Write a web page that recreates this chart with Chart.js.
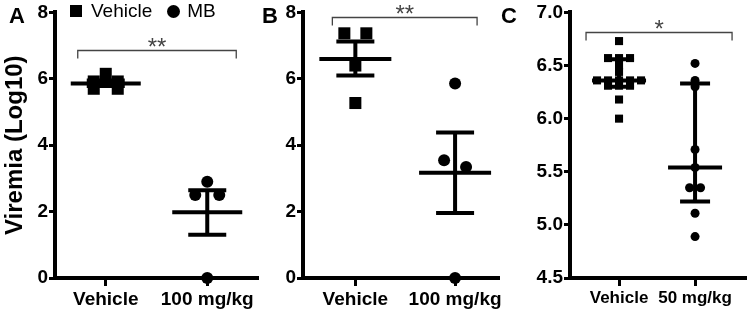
<!DOCTYPE html>
<html>
<head>
<meta charset="utf-8">
<script src="https://cdn.jsdelivr.net/npm/chart.js@4.4.1/dist/chart.umd.min.js"></script>
<style>
  body { margin: 0; background: #fff; }
  #wrap { position: relative; width: 750px; height: 314px; font-family: "Liberation Sans", Arial, sans-serif; }
  .panel { position: absolute; top: 0; height: 314px; }
  .letter { position: absolute; top: 5px; font-weight: bold; font-size: 22px; line-height: 22px; }
  #legend { position: absolute; left: 70px; top: 0px; font-size: 19px; line-height: 22px; display: flex; align-items: center; }
  .sq { display: inline-block; width: 12px; height: 12px; background: #000; margin-right: 9px; }
  .dot { display: inline-block; width: 13px; height: 13px; border-radius: 50%; background: #000; margin: 0 7px 0 15px; }
</style>
</head>
<body>
<div id="wrap">
  <div class="panel" style="left:0;width:262px"><canvas id="chartA"></canvas></div>
  <div class="panel" style="left:258px;width:246px"><canvas id="chartB"></canvas></div>
  <div class="panel" style="left:502px;width:248px"><canvas id="chartC"></canvas></div>
  <div class="letter" style="left:9px">A</div>
  <div class="letter" style="left:262px">B</div>
  <div class="letter" style="left:501px">C</div>
  <div id="legend"><span class="sq"></span>Vehicle<span class="dot"></span>MB</div>
</div>
<script>
// ---- data ----
const categoriesA = ['Vehicle', '100 mg/kg'];
const vehicleA = [6.15, 5.92, 5.92, 5.70, 5.70];
const mbA = [2.9, 2.5, 2.5, 0];
const centerA = [5.86, 1.98];
const lowA = [5.78, 1.30];
const highA = [5.95, 2.64];

const categoriesB = ['Vehicle', '100 mg/kg'];
const vehicleB = [7.37, 7.37, 6.4, 5.27];
const mbB = [5.86, 3.55, 3.34, 0];
const centerB = [6.60, 3.17];
const lowB = [6.10, 1.96];
const highB = [7.12, 4.38];

const categoriesC = ['Vehicle', '50 mg/kg'];
const vehicleC = [6.73, 6.57, 6.57, 6.57, 6.50, 6.44, 6.36, 6.36, 6.36, 6.36, 6.36, 6.31, 6.31, 6.31, 6.18, 6.00];
const mbC = [6.52, 6.36, 6.30, 5.71, 5.54, 5.35, 5.35, 5.11, 4.89];
const centerC = [6.36, 5.54];
const lowC = [6.30, 5.22];
const highC = [6.56, 6.33];

const sigLabels = ['**', '**', '*'];
const sigLevels = [6.86, 7.86, 6.82];

const FONT = '"Liberation Sans", Arial, sans-serif';

// spread points that sit on (nearly) the same value into a row, like a dot plot
const swarm = {
  id: 'swarm',
  afterDatasetsUpdate(chart, args, opts) {
    chart.data.datasets.forEach((ds, di) => {
      const pts = chart.getDatasetMeta(di).data;
      const order = pts.map((p, i) => i).sort((a, b) => pts[a].y - pts[b].y);
      let row = [];
      const flush = () => {
        row.forEach((idx, k) => { pts[idx].x += (k - (row.length - 1) / 2) * opts.gap; });
        row = [];
      };
      order.forEach(idx => {
        if (row.length && pts[idx].y - pts[row[0]].y > opts.tol) flush();
        row.push(idx);
      });
      flush();
    });
  }
};

// mean/median line, error bars and significance bracket
const bars = {
  id: 'bars',
  afterDatasetsDraw(chart, args, o) {
    const { ctx, scales: { x, y } } = chart;
    ctx.save();
    ctx.strokeStyle = '#000';
    ctx.lineWidth = 4;
    o.center.forEach((c, i) => {
      const px = x.getPixelForValue(i + 1);
      const yc = y.getPixelForValue(c);
      const yl = y.getPixelForValue(o.low[i]);
      const yh = y.getPixelForValue(o.high[i]);
      ctx.beginPath();
      ctx.moveTo(px, yl); ctx.lineTo(px, yh);
      ctx.moveTo(px - o.meanHalf, yc); ctx.lineTo(px + o.meanHalf, yc);
      ctx.moveTo(px - o.capHalf, yl); ctx.lineTo(px + o.capHalf, yl);
      ctx.moveTo(px - o.capHalf, yh); ctx.lineTo(px + o.capHalf, yh);
      ctx.stroke();
    });
    const b = o.bracket;
    const x1 = x.getPixelForValue(1) - b.left;
    const x2 = x.getPixelForValue(2) + b.right;
    const by = Math.round(y.getPixelForValue(b.level)) + 0.5;
    ctx.strokeStyle = '#444';
    ctx.lineWidth = 1.3;
    ctx.beginPath();
    ctx.moveTo(x1, by + 8); ctx.lineTo(x1, by); ctx.lineTo(x2, by); ctx.lineTo(x2, by + 8);
    ctx.stroke();
    ctx.fillStyle = '#444';
    ctx.font = '24px ' + FONT;
    ctx.textAlign = 'center';
    ctx.textBaseline = 'alphabetic';
    ctx.fillText(b.label, (x1 + x2) / 2, by + 4);
    ctx.restore();
  }
};

function makePanel(id, cats, veh, mb, st, lay) {
  const tickFont = { family: FONT, size: 19, weight: 'bold' };
  return new Chart(document.getElementById(id), {
    type: 'scatter',
    data: {
      datasets: [
        { label: 'Vehicle', data: veh.map(v => ({ x: 1, y: v })), pointStyle: 'rect',
          pointRadius: lay.sq, backgroundColor: '#000', borderWidth: 0, clip: false },
        { label: 'MB', data: mb.map(v => ({ x: 2, y: v })), pointStyle: 'circle',
          pointRadius: lay.dot, backgroundColor: '#000', borderWidth: 0, clip: false }
      ]
    },
    options: {
      responsive: true,
      maintainAspectRatio: false,
      animation: false,
      events: [],
      layout: { autoPadding: false, padding: { top: 12, right: lay.right, bottom: 0, left: 0 } },
      plugins: {
        legend: { display: false },
        tooltip: { enabled: false },
        swarm: { gap: lay.gap, tol: lay.tol },
        bars: st
      },
      scales: {
        x: {
          type: 'linear',
          min: lay.xmin,
          max: lay.xmax,
          afterBuildTicks: s => { s.ticks = cats.map((c, i) => ({ value: i + 1 })); },
          ticks: { callback: v => cats[v - 1], color: '#000', padding: 2,
                   font: { family: FONT, size: lay.xfont, weight: 'bold' },
                   maxRotation: 0, autoSkip: false },
          grid: { drawOnChartArea: false, tickLength: 8, tickWidth: 3, tickColor: '#000' },
          border: { width: 4, color: '#000' },
          afterFit: s => { s.height = 36; }
        },
        y: {
          min: lay.ymin,
          max: lay.ymax,
          ticks: { stepSize: lay.step, color: '#000', font: tickFont, padding: 1,
                   callback: v => lay.step < 1 ? v.toFixed(1) : v },
          grid: { drawOnChartArea: false, tickLength: 6, tickWidth: 3, tickColor: '#000' },
          border: { width: 4, color: '#000' },
          title: { display: !!lay.title, text: lay.title, color: '#000',
                   font: { family: FONT, size: 24, weight: 'bold' }, padding: { top: 1, bottom: 0 } },
          afterFit: s => { s.width = lay.yw; }
        }
      }
    },
    plugins: [swarm, bars]
  });
}

makePanel('chartA', categoriesA, vehicleA, mbA,
  { center: centerA, low: lowA, high: highA, meanHalf: 35, capHalf: 19,
    bracket: { left: 28, right: 29, level: sigLevels[0], label: sigLabels[0] } },
  { yw: 55, right: 4, xmin: 0.5, xmax: 2.5, ymin: 0, ymax: 8, step: 2, sq: 8.5, dot: 6,
    gap: 24, tol: 7.2, xfont: 19, title: 'Viremia (Log10)' });

makePanel('chartB', categoriesB, vehicleB, mbB,
  { center: centerB, low: lowB, high: highB, meanHalf: 36, capHalf: 19,
    bracket: { left: 23, right: 22, level: sigLevels[1], label: sigLabels[1] } },
  { yw: 45, right: 2, xmin: 0.475, xmax: 2.445, ymin: 0, ymax: 8, step: 2, sq: 8.5, dot: 6,
    gap: 22, tol: 7.2, xfont: 19, title: '' });

makePanel('chartC', categoriesC, vehicleC, mbC,
  { center: centerC, low: lowC, high: highC, meanHalf: 27, capHalf: 15,
    bracket: { left: 33, right: 37, level: sigLevels[2], label: sigLabels[2] } },
  { yw: 68, right: 4, xmin: 0.355, xmax: 2.67, ymin: 4.5, ymax: 7, step: 0.5, sq: 5.7, dot: 4.5,
    gap: 11, tol: 4.8, xfont: 17, title: '' });
</script>
</body>
</html>
